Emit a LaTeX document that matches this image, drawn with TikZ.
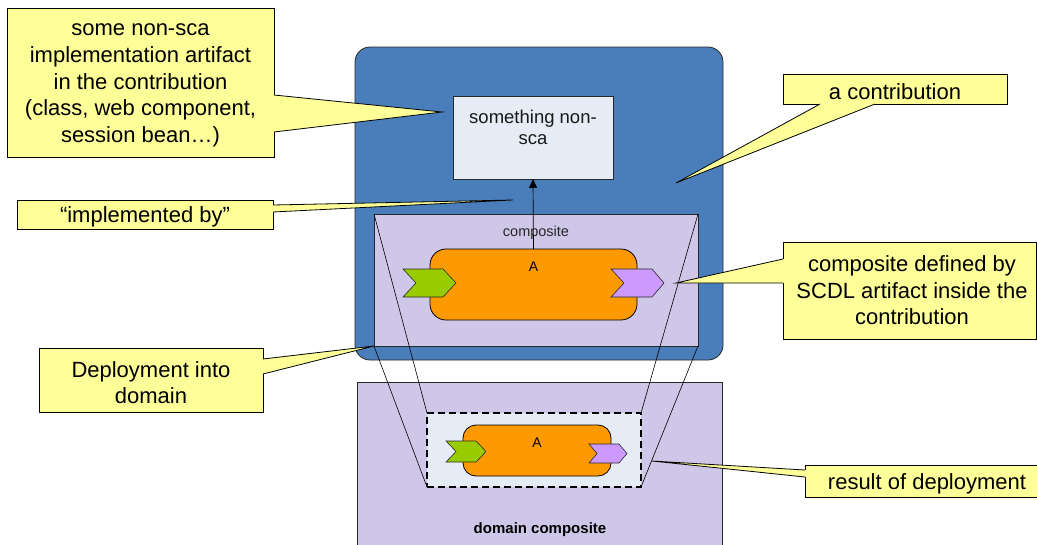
\documentclass[tikz,border=0pt]{standalone}
\usepackage{fontspec}
\setmainfont{Liberation Sans}
\usetikzlibrary{calc,arrows.meta}

\definecolor{contribblue}{RGB}{74,126,187}
\definecolor{lavender}{RGB}{207,199,232}
\definecolor{paleblue}{RGB}{230,236,246}
\definecolor{noteyellow}{RGB}{255,255,153}
\definecolor{comporange}{RGB}{255,153,0}
\definecolor{servicegreen}{RGB}{153,204,0}
\definecolor{refpurple}{RGB}{204,153,255}
\definecolor{edgegray}{RGB}{40,40,40}

% pointer of a note: base point, tip, base point, shift into the note
\newcommand\calloutptr[4]{%
  \fill[noteyellow] #1 -- #2 -- #3 -- ($#3+#4$) -- ($#1+#4$) -- cycle;
  \draw[noteline] #1 -- #2 -- #3;}

\begin{document}
\begin{tikzpicture}[x=1pt,y=-1pt,
  box/.style={rectangle,inner sep=0pt,outer sep=0pt},
  contribbox/.style={box,fill=contribblue,draw=edgegray,line width=0.8pt,rounded corners=15pt},
  lightbox/.style={box,fill=paleblue,draw=edgegray,line width=0.7pt},
  compbox/.style={box,fill=lavender,draw=edgegray,line width=0.8pt},
  component/.style={box,fill=comporange,draw=black,line width=0.8pt},
  service/.style={fill=servicegreen,draw=edgegray,line width=0.6pt,line join=miter},
  reference/.style={fill=refpurple,draw=edgegray,line width=0.6pt,line join=miter},
  note/.style={box,fill=noteyellow,draw=black,line width=0.8pt},
  notetext/.style={inner sep=0pt,align=center,font=\fontsize{22}{26.6}\selectfont},
  noteline/.style={draw=black,line width=0.8pt},
  projline/.style={draw=black,line width=0.6pt},
  lbl/.style={inner sep=0pt,align=center}]

\clip (0,0) rectangle (1037,544);

% the contribution
\node[contribbox,minimum width=368pt,minimum height=313pt] (contrib) at (539,203.5) {};
\node[lightbox,minimum width=160pt,minimum height=83pt] (nonsca) at (533,137.5) {};
\node[lbl,font=\fontsize{18.5}{21}\selectfont,text=black!90] (nonscatext) at (533,127.5) {something non-\\sca};

% composite inside the contribution
\node[compbox,minimum width=324pt,minimum height=132pt] (comp) at (536,280) {};
\node[lbl,font=\fontsize{14.5}{17}\selectfont,text=black!85] (comptext) at (536,232.5) {composite};
\node[component,rounded corners=16pt,minimum width=207pt,minimum height=71pt] (A) at (533.5,284.5) {};
\node[lbl,font=\fontsize{14}{16}\selectfont] (Atext) at (533.5,266.5) {A};
\path[service] (403,269) -- (443,269) -- (456,283) -- (443,297) -- (403,297) -- (416,283) -- cycle;
\path[reference] (611,269) -- (652,269) -- (664,283) -- (652,297) -- (611,297) -- (624,283) -- cycle;
\draw[line width=0.7pt,-{Triangle[length=9pt,width=8pt]}] (A.north) -- (nonsca.south);

% domain composite
\node[compbox,minimum width=365pt,minimum height=180pt] (domain) at (539.5,472) {};
\node[lbl,font=\fontsize{15}{18}\selectfont\bfseries] (domaintext) at (540,530) {domain composite};
\node[box,fill=paleblue,draw=black,line width=2.2pt,dash pattern=on 7pt off 4pt,
  minimum width=214pt,minimum height=74pt] (deployed) at (534,450) {};
\node[component,rounded corners=13pt,minimum width=148pt,minimum height=51pt] (Asmall) at (537,450.5) {};
\node[lbl,font=\fontsize{14}{16}\selectfont] (Asmalltext) at (537,442.5) {A};
\path[service] (446,441) -- (476,441) -- (486,451.5) -- (476,462) -- (446,462) -- (456,451.5) -- cycle;
\path[reference] (589,444) -- (619,444) -- (627,453.5) -- (619,463) -- (589,463) -- (597,453.5) -- cycle;

% projection of the composite into the domain
\draw[projline] (comp.north west) -- (deployed.north west);
\draw[projline] (comp.south west) -- (deployed.south west);
\draw[projline] (comp.north east) -- (deployed.north east);
\draw[projline] (comp.south east) -- (deployed.south east);

% notes
\coordinate (t1) at (442,112);
\coordinate (t2) at (513,200);
\coordinate (t4) at (676,183);
\coordinate (t5) at (676,283);
\coordinate (t6) at (652,461);

\node[note,minimum width=267pt,minimum height=149pt] (n1) at (140.5,82.5) {};
\calloutptr{(n1.east |- 0,95)}{(t1)}{(n1.east |- 0,132)}{(-1.5,0)}
\node[notetext] (n1text) at (140.5,85.5)
  {some non-sca\\implementation artifact\\in the contribution\\(class, web component,\\session bean…)};

\node[note,minimum width=256pt,minimum height=29pt] (n2) at (145,214.5) {};
\calloutptr{(n2.east |- 0,205)}{(t2)}{(n2.east |- 0,212)}{(-1.5,0)}
\node[notetext] (n2text) at (145,217) {“implemented by”};

\node[note,minimum width=224pt,minimum height=64pt] (n3) at (151,380) {};
\calloutptr{(n3.east |- 0,359)}{(comp.south west)}{(n3.east |- 0,374)}{(-1.5,0)}
\node[notetext] (n3text) at (151,382.5) {Deployment into\\domain};

\node[note,minimum width=224pt,minimum height=30pt] (n4) at (895,89) {};
\calloutptr{(n4.south -| 820,0)}{(t4)}{(n4.south -| 875,0)}{(0,-1.5)}
\node[notetext] (n4text) at (895,92) {a contribution};

\node[note,minimum width=253pt,minimum height=97pt] (n5) at (909.5,290.5) {};
\calloutptr{(n5.west |- 0,259)}{(t5)}{(n5.west |- 0,283)}{(1.5,0)}
\node[notetext] (n5text) at (912,290.5) {composite defined by\\SCDL artifact inside the\\contribution};

\node[note,minimum width=244pt,minimum height=32pt] (n6) at (927,481) {};
\calloutptr{(n6.west |- 0,470)}{(t6)}{(n6.west |- 0,477)}{(1.5,0)}
\node[notetext] (n6text) at (927,484) {result of deployment};

\end{tikzpicture}
\end{document}
